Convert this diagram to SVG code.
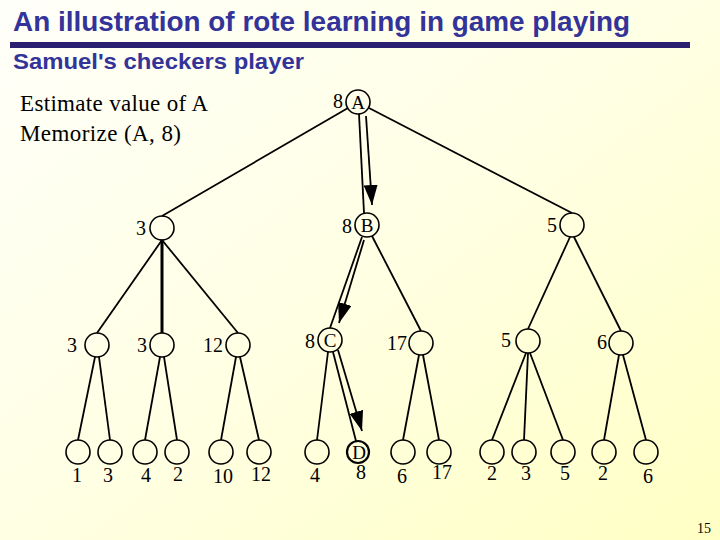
<svg xmlns="http://www.w3.org/2000/svg" width="720" height="540" viewBox="0 0 720 540">
<defs>
<linearGradient id="bg" x1="0" y1="0" x2="1" y2="1">
<stop offset="0" stop-color="#FFFFFA"/>
<stop offset="0.5" stop-color="#FFFFE4"/>
<stop offset="1" stop-color="#FFFFC4"/>
</linearGradient>
<marker id="ah" viewBox="0 0 20 14" refX="20" refY="7" markerWidth="20" markerHeight="14" markerUnits="userSpaceOnUse" orient="auto">
<path d="M0,0 L20,7 L0,14 z" fill="#000"/>
</marker>
<style>
.title{font-family:"Liberation Sans",Arial,sans-serif;font-weight:bold;fill:#333399}
.t{font-family:"Liberation Serif","Times New Roman",serif;font-size:20px;fill:#000}
.lt{font-family:"Liberation Serif","Times New Roman",serif;font-size:20px;fill:#000;text-anchor:middle}
.big{font-size:23px}
.ltr{font-size:19px}
.node circle{fill:none;stroke:#000;stroke-width:1.6}
.edges line{stroke:#000;stroke-width:1.8}
.arrow{stroke:#000;stroke-width:2;marker-end:url(#ah)}
</style>
</defs>
<rect width="720" height="540" fill="url(#bg)"/>
<text class="title" x="13" y="31" font-size="27" textLength="617" lengthAdjust="spacingAndGlyphs">An illustration of rote learning in game playing</text>
<rect x="10" y="42" width="680" height="6" fill="#2A1F70"/>
<text class="title" x="13" y="69" font-size="22" textLength="291" lengthAdjust="spacingAndGlyphs">Samuel's checkers player</text>
<text class="t big" x="20" y="111" textLength="188" lengthAdjust="spacing">Estimate value of A</text>
<text class="t big" x="20" y="141" textLength="161" lengthAdjust="spacing">Memorize (A, 8)</text>
<text class="t" x="697" y="533" style="font-size:14px">15</text>

<g id="edges" class="edges">
<line x1="348" y1="108" x2="162" y2="216"/>
<line x1="359" y1="114" x2="364" y2="213"/>
<line x1="369" y1="108" x2="572" y2="213"/>
<line x1="162" y1="240" x2="97" y2="333"/>
<line x1="162" y1="240" x2="162" y2="333" style="stroke-width:3"/>
<line x1="162" y1="240" x2="238" y2="333"/>
<line x1="362" y1="237" x2="330" y2="328"/>
<line x1="372" y1="236" x2="421" y2="331"/>
<line x1="570" y1="237" x2="528" y2="329"/>
<line x1="574" y1="237" x2="621" y2="331"/>
<line x1="95" y1="357" x2="78" y2="440"/>
<line x1="99" y1="357" x2="110" y2="440"/>
<line x1="160" y1="357" x2="145" y2="440"/>
<line x1="164" y1="357" x2="177" y2="440"/>
<line x1="236" y1="357" x2="221" y2="440"/>
<line x1="240" y1="357" x2="259" y2="440"/>
<line x1="328" y1="352" x2="317" y2="440"/>
<line x1="333" y1="352" x2="356" y2="441"/>
<line x1="419" y1="355" x2="403" y2="440"/>
<line x1="423" y1="355" x2="439" y2="440"/>
<line x1="526" y1="353" x2="492" y2="440"/>
<line x1="528" y1="353" x2="524" y2="440"/>
<line x1="530" y1="353" x2="563" y2="440"/>
<line x1="619" y1="355" x2="604" y2="440"/>
<line x1="623" y1="355" x2="646" y2="440"/>
<line class="arrow" x1="366" y1="116" x2="372" y2="205"/>
<line class="arrow" x1="364" y1="240" x2="339" y2="323"/>
<line class="arrow" x1="338" y1="350" x2="362" y2="431"/>
</g>

<g id="nA" class="node"><circle cx="358" cy="102" r="12"/><text class="lt ltr" x="358" y="109">A</text><text class="t" x="333" y="108">8</text></g>
<g id="n1" class="node"><circle cx="162" cy="228" r="12"/><text class="t" x="136" y="235">3</text></g>
<g id="nB" class="node"><circle cx="367" cy="225" r="12"/><text class="lt ltr" x="367" y="232">B</text><text class="t" x="342" y="233">8</text></g>
<g id="n3" class="node"><circle cx="572" cy="225" r="12"/><text class="t" x="547" y="232">5</text></g>
<g id="n11" class="node"><circle cx="97" cy="345" r="12"/><text class="t" x="67" y="352">3</text></g>
<g id="n12" class="node"><circle cx="162" cy="345" r="12"/><text class="t" x="137" y="352">3</text></g>
<g id="n13" class="node"><circle cx="238" cy="345" r="12"/><text class="t" x="203" y="352">12</text></g>
<g id="nC" class="node"><circle cx="330" cy="340" r="12"/><text class="lt ltr" x="330" y="347">C</text><text class="t" x="305" y="348">8</text></g>
<g id="n22" class="node"><circle cx="421" cy="343" r="12"/><text class="t" x="387" y="350">17</text></g>
<g id="n31" class="node"><circle cx="528" cy="341" r="12"/><text class="t" x="501" y="347">5</text></g>
<g id="n32" class="node"><circle cx="621" cy="343" r="12"/><text class="t" x="597" y="349">6</text></g>

<g id="l1" class="node"><circle cx="78" cy="452" r="12"/><text class="lt" x="77" y="482">1</text></g>
<g id="l2" class="node"><circle cx="110" cy="452" r="12"/><text class="lt" x="108" y="482">3</text></g>
<g id="l3" class="node"><circle cx="145" cy="452" r="12"/><text class="lt" x="146" y="482">4</text></g>
<g id="l4" class="node"><circle cx="177" cy="452" r="12"/><text class="lt" x="178" y="481">2</text></g>
<g id="l5" class="node"><circle cx="221" cy="452" r="12"/><text class="lt" x="223" y="483">10</text></g>
<g id="l6" class="node"><circle cx="259" cy="452" r="12"/><text class="lt" x="261" y="481">12</text></g>
<g id="l7" class="node"><circle cx="317" cy="452" r="12"/><text class="lt" x="315" y="482">4</text></g>
<g id="lD" class="node"><circle cx="358" cy="452" r="11" style="stroke-width:2.2"/><text class="lt ltr" x="359" y="459">D</text><text class="lt" x="361" y="479">8</text></g>
<g id="l9" class="node"><circle cx="403" cy="452" r="12"/><text class="lt" x="402" y="483">6</text></g>
<g id="l10" class="node"><circle cx="439" cy="452" r="12"/><text class="lt" x="442" y="479">17</text></g>
<g id="l11" class="node"><circle cx="492" cy="452" r="12"/><text class="lt" x="492" y="480">2</text></g>
<g id="l12" class="node"><circle cx="524" cy="452" r="12"/><text class="lt" x="526" y="480">3</text></g>
<g id="l13" class="node"><circle cx="563" cy="452" r="12"/><text class="lt" x="565" y="480">5</text></g>
<g id="l14" class="node"><circle cx="604" cy="452" r="12"/><text class="lt" x="603" y="480">2</text></g>
<g id="l15" class="node"><circle cx="646" cy="452" r="12"/><text class="lt" x="648" y="483">6</text></g>
</svg>
